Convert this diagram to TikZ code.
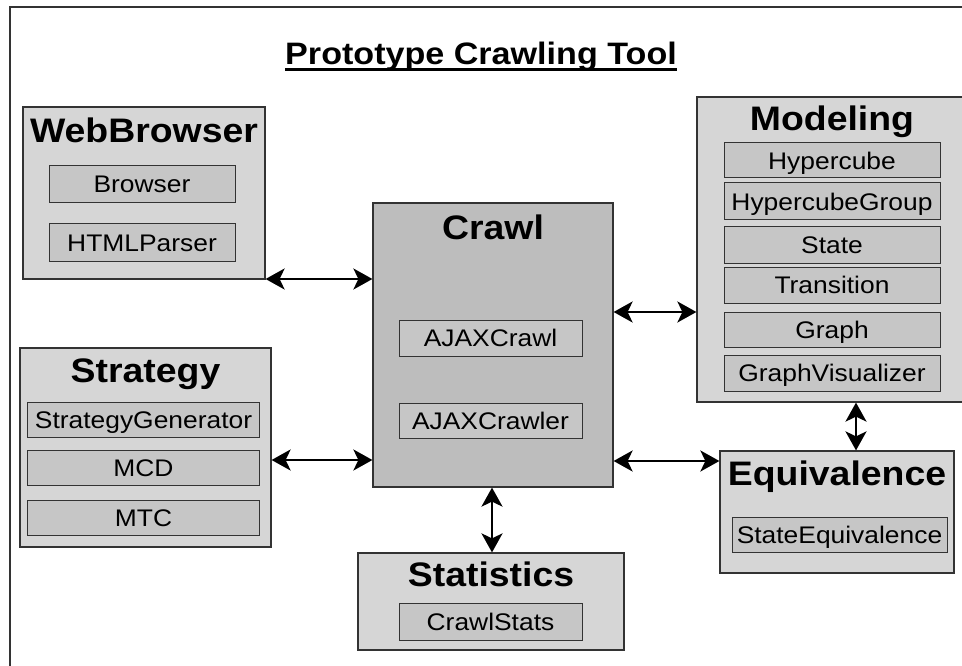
\documentclass[tikz,border=0pt]{standalone}
\usepackage{fontspec}
\setmainfont[FakeStretch=1.1]{Liberation Sans}
\usetikzlibrary{arrows.meta,calc}
\definecolor{boxfill}{HTML}{D6D6D6}
\definecolor{crawlfill}{HTML}{BDBDBD}
\definecolor{subfill}{HTML}{C6C6C6}
\definecolor{edge}{HTML}{333333}
\newcommand{\ttlfont}{\fontsize{34}{38}\selectfont\bfseries}
\newcommand{\subfont}{\fontsize{24}{28}\selectfont}
\newcommand{\mainfont}{\fontsize{31}{35}\selectfont\bfseries}
\tikzset{
  outerbox/.style={draw=edge, fill=boxfill, line width=1.2pt, inner sep=0pt, rectangle},
  subbox/.style={draw=edge, fill=subfill, line width=1pt, inner sep=0pt, rectangle, font=\subfont, text height=17.2pt, text depth=0pt},
  ttl/.style={inner sep=0pt, font=\ttlfont, text height=24.3pt, text depth=0pt},
  link/.style={{Stealth[length=19pt,width=21pt,inset=5pt]}-{Stealth[length=19pt,width=21pt,inset=5pt]}, line width=2.4pt}
}
\begin{document}
\begin{tikzpicture}[x=1pt,y=-1pt]
\useasboundingbox (0,0) rectangle (962,666);
\fill[white] (0,0) rectangle (962,666);
% frame
\draw[line width=1.5pt, edge] (10,666) -- (10,7) -- (962,7);
% title
\node[inner sep=0pt, font=\mainfont, anchor=base] (title) at (481,65) {Prototype Crawling Tool};
\draw[line width=2.6pt] ([yshift=-4.5pt]title.base west) -- ([yshift=-4.5pt]title.base east);

% WebBrowser
\node[outerbox, minimum width=242pt, minimum height=172pt] (web) at (144,193) {};
\node[ttl] (webt) at (144,130) {WebBrowser};
\node[subbox, minimum width=186pt, minimum height=37pt] (browser) at (142,184) {Browser};
\node[subbox, minimum width=186pt, minimum height=37pt] (html) at (142,242.5) {HTMLParser};

% Strategy
\node[outerbox, minimum width=251pt, minimum height=199pt] (strat) at (145.5,447.5) {};
\node[ttl] (stratt) at (145.5,370) {Strategy};
\node[subbox, minimum width=232pt, minimum height=35pt] (sgen) at (143.5,419.5) {StrategyGenerator};
\node[subbox, minimum width=232pt, minimum height=35pt] (mcd) at (143.5,467.5) {MCD};
\node[subbox, minimum width=232pt, minimum height=35pt] (mtc) at (143.5,517.5) {MTC};

% Crawl
\node[outerbox, fill=crawlfill, minimum width=240pt, minimum height=284pt] (crawl) at (493,345) {};
\node[ttl] (crawlt) at (493,227) {Crawl};
\node[subbox, minimum width=183pt, minimum height=36pt] (ajc) at (490.5,338) {AJAXCrawl};
\node[subbox, minimum width=183pt, minimum height=35pt] (ajcr) at (490.5,421) {AJAXCrawler};

% Statistics
\node[outerbox, minimum width=266pt, minimum height=97pt] (stats) at (491,601.5) {};
\node[ttl] (statst) at (491,574) {Statistics};
\node[subbox, minimum width=183pt, minimum height=37pt] (cstats) at (490.5,621.5) {CrawlStats};

% Modeling
\node[outerbox, minimum width=266pt, minimum height=305pt] (model) at (830,249.5) {};
\node[ttl] (modelt) at (832,118) {Modeling};
\node[subbox, minimum width=216pt, minimum height=35pt] (hc) at (832,160.5) {Hypercube};
\node[subbox, minimum width=216pt, minimum height=37pt] (hcg) at (832,201.5) {HypercubeGroup};
\node[subbox, minimum width=216pt, minimum height=36pt] (state) at (832,245) {State};
\node[subbox, minimum width=216pt, minimum height=36pt] (trans) at (832,285) {Transition};
\node[subbox, minimum width=216pt, minimum height=35pt] (graph) at (832,329.5) {Graph};
\node[subbox, minimum width=216pt, minimum height=36pt] (gvis) at (832,373) {GraphVisualizer};

% Equivalence
\node[outerbox, minimum width=234pt, minimum height=122pt] (equiv) at (837,512) {};
\node[ttl] (equivt) at (837,473) {Equivalence};
\node[subbox, minimum width=215pt, minimum height=35pt] (seq) at (839.5,534.5) {StateEquivalence};

% connectors
\coordinate (l1) at (0,279);
\coordinate (l2) at (0,460);
\coordinate (l3) at (0,312);
\coordinate (l4) at (0,461);
\coordinate (v1) at (492,0);
\coordinate (v2) at (856,0);
\draw[link] (web.east |- l1) -- (crawl.west |- l1);
\draw[link] (strat.east |- l2) -- (crawl.west |- l2);
\draw[link] (crawl.east |- l3) -- (model.west |- l3);
\draw[link] (crawl.east |- l4) -- (equiv.west |- l4);
\draw[link] (crawl.south -| v1) -- (stats.north -| v1);
\draw[link] (model.south -| v2) -- (equiv.north -| v2);
\end{tikzpicture}
\end{document}
